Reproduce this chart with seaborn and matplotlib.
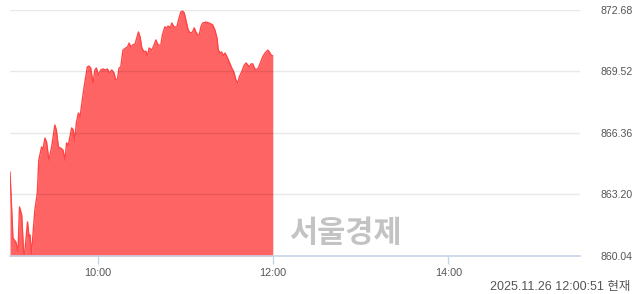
import matplotlib
matplotlib.use("Agg")
import matplotlib.pyplot as plt
import seaborn as sns
import numpy as np
import pandas as pd

# minutes after 09:00
minutes = [0, 2, 4, 5.5, 6.5, 8, 9.3, 10, 12, 13, 13.6, 14.7, 17, 18.7, 19.7, 21.6, 22.5, 23.9, 25, 26.6,
           28.5, 30.7, 31.7, 33.1, 34.6, 36.2, 37.6, 38.7, 39.9, 42.2, 43.3, 44.2, 45.4, 46.8, 47.9, 49,
           50.6, 52.9, 54, 55.2, 56.8, 58.1, 59.1, 60.5, 62.1, 63.6, 65.5, 66.6, 68.2, 69.6, 71.2, 72.3,
           73.5, 74.6, 75.8, 77.3, 79.2, 80.4, 81.5, 82.6, 83.8, 85.6, 86.7, 87.9, 89, 90.2, 91.7, 92.9,
           94.1, 95.2, 97, 98.6, 99.8, 101.3, 103.2, 104.3, 105.9, 107.3, 108.2, 109.6, 110.7, 112.3,
           114.2, 115.3, 116.9, 118.1, 119.2, 120.3, 121.9, 123.3, 124.9, 126, 127.2, 128.4, 129.5,
           130.6, 131.8, 134.1, 136.3, 138.7, 140.2, 141.6, 142.5, 143.9, 144.8, 146.2, 147.1, 148.5,
           150, 151.7, 153.1, 154.6, 155.8, 156.9, 158.5, 160.3, 161.5, 162.7, 163.8, 164.9, 166.1,
           167.2, 168.3, 169.9, 171.3, 172.9, 174.5, 176.4, 177.5, 178.6, 179.8]
values = [864.36, 860.96, 860.76, 860.25, 862.56, 862.15, 860.19, 860.14, 861.79, 861.02, 861.12, 860.14,
          862.40, 863.28, 864.97, 865.64, 865.49, 866.10, 865.90, 864.97, 865.64, 866.77, 866.51, 865.64,
          865.59, 865.49, 864.97, 865.85, 865.74, 866.62, 866.51, 865.90, 866.87, 867.39, 867.18, 867.80,
          868.67, 869.75, 869.80, 869.70, 868.93, 869.60, 869.70, 869.34, 869.60, 869.65, 869.60, 869.65,
          869.44, 869.60, 869.44, 869.08, 869.13, 869.70, 869.75, 870.62, 870.73, 870.78, 870.98, 870.78,
          870.88, 870.93, 871.24, 871.55, 871.29, 870.73, 870.52, 870.57, 870.32, 870.73, 870.62, 870.88,
          871.14, 870.88, 870.88, 871.40, 871.81, 871.76, 871.86, 871.76, 872.01, 871.81, 871.81, 872.17,
          872.58, 872.62, 872.53, 872.17, 871.65, 871.50, 871.55, 871.76, 871.55, 871.40, 871.40, 871.81,
          872.01, 872.06, 872.01, 871.91, 871.65, 871.24, 870.62, 870.47, 870.52, 870.32, 870.47, 870.27,
          870.01, 869.70, 869.50, 869.08, 868.93, 869.24, 869.50, 869.85, 869.96, 869.85, 869.75, 869.91,
          869.91, 869.70, 869.60, 869.70, 869.96, 870.27, 870.47, 870.62, 870.52, 870.37, 870.32]

y_ticks = [860.04, 863.20, 866.36, 869.52, 872.68]
x_tick_minutes = [60, 180, 300]
x_tick_labels = ["10:00", "12:00", "14:00"]
watermark = "서울경제"
timestamp = "2025.11.26 12:00:51 현재"

df = pd.DataFrame({"minute": minutes, "value": values})

sns.set_theme(style="white")
plt.rcParams["font.family"] = ["Liberation Sans", "Noto Sans CJK KR", "DejaVu Sans"]

fig = plt.figure(figsize=(6.4, 2.94), dpi=100)
ax = fig.add_axes([10 / 640, 38 / 294, 570 / 640, 246 / 294])

ymin, ymax = y_ticks[0], y_ticks[-1]
ax.fill_between(df["minute"], df["value"], ymin, color="#ff6464", linewidth=0, zorder=2)
sns.lineplot(data=df, x="minute", y="value", ax=ax, color="#ff4545", linewidth=1.0, zorder=3)

ax.set_xlim(0, 390)
ax.set_ylim(ymin, ymax)
ax.set_xlabel("")
ax.set_ylabel("")

for yv in y_ticks[1:]:
    ax.axhline(yv, color=(0, 0, 0, 0.09), linewidth=1, zorder=4)

for s in ["top", "left", "right"]:
    ax.spines[s].set_visible(False)
ax.spines["bottom"].set_color("#c6d4e8")
ax.spines["bottom"].set_linewidth(1.2)
ax.spines["bottom"].set_zorder(5)

ax.set_xticks(x_tick_minutes)
ax.set_xticklabels(x_tick_labels)
ax.tick_params(axis="x", direction="out", length=6, width=1, color="#c6d4e8",
               labelsize=7.8, labelcolor="#555555", pad=3, bottom=True)

ax.yaxis.tick_right()
ax.set_yticks(y_ticks)
ax.set_yticklabels([f"{v:.2f}" for v in y_ticks])
ax.tick_params(axis="y", length=0, pad=15, labelsize=7.6, labelcolor="#555555")

fig.text(345 / 640, 1 - 233 / 294, watermark, family=["Noto Sans CJK KR"], fontsize=22,
         fontweight="bold", color="#c3c3c3", ha="center", va="center")
fig.text(630 / 640, 1 - 287 / 294, timestamp, family=["Liberation Sans", "Noto Sans CJK KR"],
         fontsize=9, color="#555555", ha="right", va="center")

fig.savefig("out.png", dpi=100)
